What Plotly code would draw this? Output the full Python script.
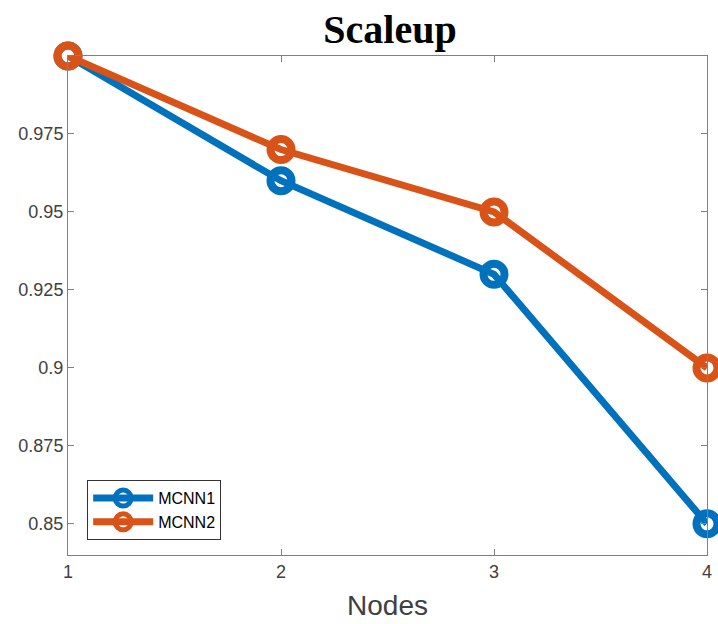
import plotly.graph_objects as go

# Scaleup results per number of nodes
nodes = [1, 2, 3, 4]
mcnn1 = [1.0, 0.96, 0.93, 0.85]
mcnn2 = [1.0, 0.97, 0.95, 0.90]
y_ticks = [0.85, 0.875, 0.9, 0.925, 0.95, 0.975]
y_tick_text = ["0.85", "0.875", "0.9", "0.925", "0.95", "0.975"]

blue = "#0072BD"
orange = "#D95319"
axis_gray = "#808080"
text_gray = "#404040"

fig = go.Figure()
for name, vals, col in [("MCNN1", mcnn1, blue), ("MCNN2", mcnn2, orange)]:
    fig.add_trace(go.Scatter(
        x=nodes, y=vals, name=name, mode="lines+markers",
        line=dict(color=col, width=7),
        marker=dict(symbol="circle-open", size=21, color=col,
                    line=dict(color=col, width=8)),
        cliponaxis=False,
    ))

fig.update_layout(
    width=718, height=624,
    margin=dict(l=67.5, r=5.5, t=56, b=69),
    paper_bgcolor="white", plot_bgcolor="white",
    title=dict(text="<b>Scaleup</b>", x=(67.5 + 712.5) / 2 / 718, xanchor="center",
               y=1 - 29 / 624, yanchor="middle",
               font=dict(family="Liberation Serif", size=40, color="black")),
    font=dict(family="Liberation Sans", color=text_gray),
    showlegend=True,
    legend=dict(x=0.03, y=0.15, xanchor="left", yanchor="top",
                bordercolor="#333333", borderwidth=1, bgcolor="white",
                font=dict(size=16, color="black"),
                tracegroupgap=0, itemwidth=60),
)
fig.update_xaxes(
    range=[1, 4], tickvals=nodes, ticktext=[str(n) for n in nodes],
    ticks="inside", ticklen=6, tickcolor=axis_gray,
    showline=True, linecolor=axis_gray, linewidth=1, mirror="ticks",
    showgrid=False, zeroline=False,
    tickfont=dict(size=18, color=text_gray),
    title=dict(text="Nodes", font=dict(size=28, color=text_gray), standoff=14),
)
fig.update_yaxes(
    range=[0.84, 1.0], tickvals=y_ticks, ticktext=y_tick_text,
    ticks="inside", ticklen=6, tickcolor=axis_gray,
    showline=True, linecolor=axis_gray, linewidth=1, mirror="ticks",
    showgrid=False, zeroline=False,
    tickfont=dict(size=18, color=text_gray),
)

fig.write_html("out.html")
